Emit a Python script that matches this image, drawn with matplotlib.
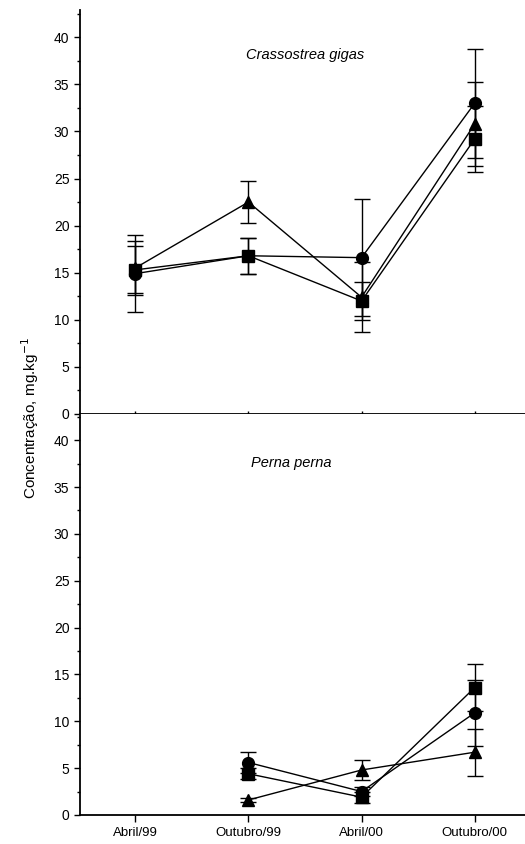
import numpy as np
import matplotlib
matplotlib.use("Agg")
import matplotlib.pyplot as plt
from matplotlib.ticker import MultipleLocator

plt.rcParams['font.family'] = ['Liberation Sans', 'DejaVu Sans']

meses = ['Abril/99', 'Outubro/99', 'Abril/00', 'Outubro/00']
x = np.arange(len(meses))

# Crassostrea gigas (painel de cima)
cg_circ = [14.9, 16.8, 16.6, 33.0]
cg_circ_err = [4.1, 1.9, 6.2, 5.8]
cg_quad = [15.3, 16.8, 12.0, 29.2]
cg_quad_err = [2.5, 1.9, 2.0, 3.5]
cg_tri = [15.5, 22.5, 12.4, 30.8]
cg_tri_err = [2.9, 2.2, 3.7, 4.5]

# Perna perna (painel de baixo) - sem dados em Abril/99
pp_x = x[1:]
pp_circ = [5.6, 2.5, 10.9]
pp_circ_err = [1.1, 0.5, 3.5]
pp_quad = [4.4, 1.9, 13.6]
pp_quad_err = [0.6, 0.6, 2.5]
pp_tri = [1.6, 4.8, 6.7]
pp_tri_err = [0.2, 1.1, 2.5]

fig = plt.figure(figsize=(5.25, 8.44), dpi=100)
ax1 = fig.add_axes([0.152, 0.5095, 0.86, 0.4787])
ax2 = fig.add_axes([0.152, 0.0344, 0.86, 0.4751])

estilo = dict(color='black', lw=1.0, capsize=6, elinewidth=1.0, capthick=1.0, markersize=8.5)

for ax, xs, series in [
    (ax1, x, [(cg_circ, cg_circ_err, 'o'), (cg_quad, cg_quad_err, 's'), (cg_tri, cg_tri_err, '^')]),
    (ax2, pp_x, [(pp_circ, pp_circ_err, 'o'), (pp_quad, pp_quad_err, 's'), (pp_tri, pp_tri_err, '^')]),
]:
    for vals, errs, m in series:
        ax.errorbar(xs, vals, yerr=errs, marker=m, **estilo)
    ax.set_xlim(-0.49, 3.5)
    ax.spines['top'].set_visible(False)
    ax.spines['right'].set_visible(False)
    ax.spines['left'].set_linewidth(1.3)
    ax.spines['bottom'].set_linewidth(1.3)
    ax.yaxis.set_major_locator(MultipleLocator(5))
    ax.yaxis.set_minor_locator(MultipleLocator(2.5))
    ax.set_xticks(x)
    ax.tick_params(axis='y', labelsize=10, length=4, width=1, direction='out')
    ax.tick_params(axis='y', which='minor', length=2.5, width=1, direction='out')

ax1.set_ylim(0, 42.9)
ax2.set_ylim(0, 42.8)
ax1.set_yticks(np.arange(0, 41, 5))
ax2.set_yticks(np.arange(0, 41, 5))
ax1.tick_params(axis='x', direction='inout', length=5, width=1, labelbottom=False)
ax2.tick_params(axis='x', direction='out', length=5, width=1, labelsize=9.5)
ax2.set_xticklabels(meses)

ax1.text(1.5, 38.1, 'Crassostrea gigas', style='italic', ha='center', va='center', fontsize=10.5)
ax2.text(1.38, 37.6, 'Perna perna', style='italic', ha='center', va='center', fontsize=10.5)

fig.text(0.058, 0.505, 'Concentração, mg.kg$^{-1}$', rotation=90, ha='center', va='center', fontsize=11)

fig.savefig('out.png', dpi=100)
